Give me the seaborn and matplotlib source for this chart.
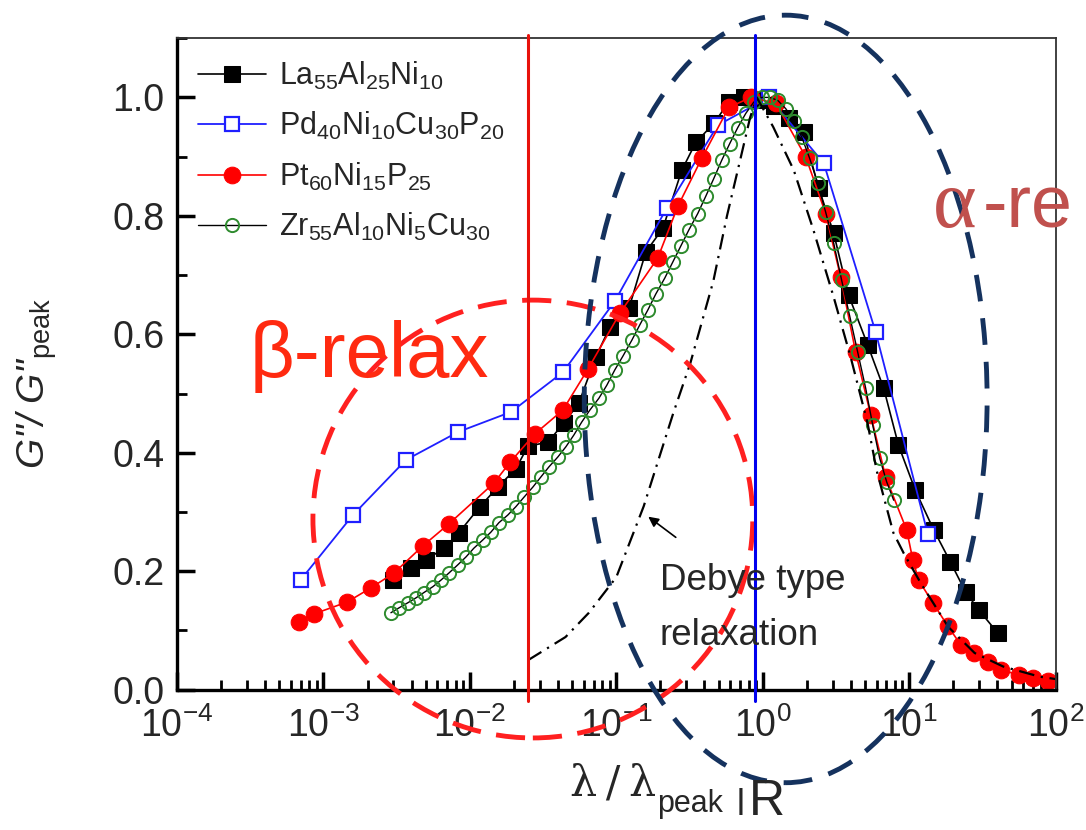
import numpy as np
import pandas as pd
import matplotlib
matplotlib.use("Agg")
import matplotlib.pyplot as plt
from matplotlib.patches import Ellipse
from matplotlib.ticker import MultipleLocator, FormatStrFormatter, FixedLocator, NullFormatter
import seaborn as sns

sns.set_style("ticks")
plt.rcParams["font.family"] = ["Liberation Sans", "DejaVu Sans"]
plt.rcParams["mathtext.fontset"] = "custom"
plt.rcParams["mathtext.rm"] = "Liberation Sans"
plt.rcParams["mathtext.it"] = "Liberation Sans:italic"
plt.rcParams["mathtext.bf"] = "Liberation Sans:bold"

# La55Al25Ni10
la_x = [0.00298, 0.00396, 0.00501, 0.00665, 0.00841, 0.0117, 0.0155, 0.0206, 0.0249, 0.0341,
        0.0438, 0.0555, 0.0725, 0.0903, 0.122, 0.159, 0.208, 0.280, 0.349, 0.463, 0.586, 0.742,
        0.939, 1.19, 1.50, 1.90, 2.41, 3.05, 3.86, 5.21, 6.70, 8.45, 11.0, 14.7, 19.1, 24.3, 29.8, 40.2]
la_y = [0.186, 0.206, 0.219, 0.239, 0.265, 0.309, 0.342, 0.373, 0.411, 0.418,
        0.450, 0.484, 0.562, 0.612, 0.644, 0.739, 0.779, 0.877, 0.924, 0.956, 0.992, 1.0,
        0.995, 0.985, 0.965, 0.941, 0.847, 0.771, 0.666, 0.582, 0.509, 0.413, 0.337, 0.270, 0.216, 0.165, 0.135, 0.096]

# Pd40Ni10Cu30P20
pd_x = [0.000702, 0.00159, 0.00366, 0.00828, 0.0191, 0.0432, 0.0977, 0.221, 0.493, 1.10, 2.61, 5.90, 13.4]
pd_y = [0.186, 0.295, 0.388, 0.435, 0.469, 0.536, 0.656, 0.813, 0.953, 1.0, 0.889, 0.604, 0.263]

# Pt60Ni15P25
pt_x = [0.000681, 0.000861, 0.00145, 0.00211, 0.00303, 0.00478, 0.00719, 0.0146, 0.0188, 0.0278,
        0.0431, 0.0639, 0.106, 0.192, 0.263, 0.383, 0.586, 0.828, 1.23, 1.97, 2.69, 3.41, 4.31,
        5.46, 6.91, 9.61, 10.6, 11.6, 14.5, 18.3, 22.5, 27.6, 34.4, 42.1, 55.9, 69.7, 88.2]
pt_y = [0.115, 0.128, 0.148, 0.172, 0.197, 0.243, 0.280, 0.349, 0.384, 0.432,
        0.472, 0.541, 0.636, 0.729, 0.816, 0.897, 0.983, 1.0, 0.990, 0.899, 0.804, 0.696, 0.570,
        0.464, 0.359, 0.270, 0.219, 0.185, 0.147, 0.108, 0.076, 0.062, 0.047, 0.034, 0.025, 0.020, 0.015]

# Zr55Al10Ni5Cu30
zr_x = [0.00289, 0.00327, 0.00378, 0.00428, 0.00485, 0.00559, 0.00634, 0.00719, 0.00828, 0.00939,
        0.01065, 0.01227, 0.01391, 0.01578, 0.01817, 0.0206, 0.0234, 0.0269, 0.0305, 0.0346,
        0.0399, 0.0452, 0.0513, 0.0581, 0.0659, 0.0760, 0.0861, 0.0977, 0.1108, 0.1276,
        0.1447, 0.1641, 0.1860, 0.2143, 0.2430, 0.2756, 0.3126, 0.360, 0.408, 0.463,
        0.525, 0.595, 0.675, 0.766, 0.868, 0.984, 1.116, 1.266, 1.436, 1.628,
        1.846, 2.093, 2.374, 2.692, 3.052, 3.461, 3.925, 4.451, 5.048, 5.635, 6.29, 7.02, 7.84]
zr_y = [0.130, 0.138, 0.147, 0.155, 0.164, 0.174, 0.185, 0.197, 0.211, 0.224,
        0.239, 0.253, 0.266, 0.282, 0.295, 0.309, 0.325, 0.342, 0.359, 0.376,
        0.393, 0.410, 0.430, 0.452, 0.472, 0.492, 0.514, 0.540, 0.563, 0.590,
        0.616, 0.641, 0.668, 0.695, 0.722, 0.749, 0.776, 0.804, 0.833, 0.863,
        0.894, 0.922, 0.949, 0.973, 0.992, 1.0, 1.0, 0.995, 0.981, 0.961,
        0.933, 0.897, 0.855, 0.806, 0.754, 0.691, 0.631, 0.570, 0.509, 0.447, 0.391, 0.351, 0.320]

# Debye type relaxation curve
deb_x = [0.025, 0.045, 0.065, 0.1, 0.154, 0.245, 0.32, 0.46, 0.57, 0.71, 0.82, 0.91, 1.18, 1.63,
         2.22, 3.05, 4.0, 5.2, 6.0, 7.8, 9.2, 12, 18.5, 28, 44, 78, 100]
deb_y = [0.05, 0.089, 0.13, 0.19, 0.31, 0.467, 0.551, 0.69, 0.80, 0.90, 0.966, 1.0, 0.95, 0.877,
         0.776, 0.663, 0.56, 0.45, 0.37, 0.265, 0.23, 0.18, 0.106, 0.062, 0.039, 0.022, 0.018]

# vertical marker lines (beta / peak position)
vline_x = [0.0249, 0.88]
vline_colors = ["#e8120c", "#0000ee"]

decades = [1e-4, 1e-3, 1e-2, 1e-1, 1e0, 1e1, 1e2]

fig = plt.figure(figsize=(10.86, 8.30), dpi=100)
ax = fig.add_axes([0.163, 0.169, 0.809, 0.785])

common = dict(estimator=None, sort=False, ax=ax)
sns.lineplot(x=la_x, y=la_y, color="black", lw=1.2, marker="s", markersize=11,
             markerfacecolor="black", markeredgecolor="black",
             label="La$_{55}$Al$_{25}$Ni$_{10}$", **common)
sns.lineplot(x=pd_x, y=pd_y, color="#1f1fff", lw=1.3, marker="s", markersize=9.5,
             markerfacecolor="white", markeredgecolor="#1f1fff", markeredgewidth=1.6,
             label="Pd$_{40}$Ni$_{10}$Cu$_{30}$P$_{20}$", **common)
sns.lineplot(x=pt_x, y=pt_y, color="#ff0000", lw=1.2, marker="o", markersize=12,
             markerfacecolor="#ff0000", markeredgecolor="#ff0000",
             label="Pt$_{60}$Ni$_{15}$P$_{25}$", **common)
sns.lineplot(x=zr_x, y=zr_y, color="black", lw=1.0, marker="o", markersize=9.5,
             markerfacecolor="none", markeredgecolor="#2e8b2e", markeredgewidth=1.4,
             label="Zr$_{55}$Al$_{10}$Ni$_{5}$Cu$_{30}$", **common)
sns.lineplot(x=deb_x, y=deb_y, color="black", lw=1.6, linestyle=(0, (7, 3, 1, 3)),
             **common)

ax.set_xscale("log")
ax.set_xlim(1e-4, 1e2)
ax.set_ylim(0, 1.1)
ax.set_xticks(decades)
minor_x = [m * d for d in decades[:-1] for m in range(2, 10)]
ax.xaxis.set_minor_locator(FixedLocator(minor_x))
ax.xaxis.set_minor_formatter(NullFormatter())
ax.yaxis.set_major_locator(MultipleLocator(0.2))
ax.yaxis.set_minor_locator(MultipleLocator(0.1))
ax.yaxis.set_major_formatter(FormatStrFormatter("%.1f"))
ax.tick_params(which="both", direction="in", top=False, right=False, labelsize=27,
               color="black")
ax.tick_params(which="major", length=13, width=2.5)
ax.tick_params(which="minor", length=7, width=2)
ax.tick_params(axis="y", pad=9)
ax.tick_params(axis="x", pad=13)
for side in ["left", "bottom"]:
    ax.spines[side].set_linewidth(2.4)
    ax.spines[side].set_color("black")
for side in ["top", "right"]:
    ax.spines[side].set_linewidth(1.3)
    ax.spines[side].set_color("#333333")

leg = ax.legend(loc="upper left", bbox_to_anchor=(0.0, 1.0), frameon=False, fontsize=22,
                handlelength=2.2, handletextpad=0.45, labelspacing=0.6, borderaxespad=0.3)

# overlays
for xv, c in zip(vline_x, vline_colors):
    ax.axvline(xv, ymin=-0.018, ymax=1.005, color=c, lw=2.2, clip_on=False, zorder=6)

ax.add_patch(Ellipse((0.405, 0.262), 0.5006, 0.672, transform=ax.transAxes, fill=False,
                     edgecolor="#ff2020", lw=3.5, linestyle=(0, (6, 3.2)), clip_on=False, zorder=5))
ax.add_patch(Ellipse((0.6928, 0.4463), 0.4585, 1.178, transform=ax.transAxes, fill=False,
                     edgecolor="#15325e", lw=3.5, linestyle=(0, (5.5, 3.5)), clip_on=False, zorder=5))

fig.text(250 / 1086, 1 - 377 / 830, "β-relax", color="#ff2a10", fontsize=56, va="baseline")
fig.text(933 / 1086, 1 - 227 / 830, "α", color="#c0504d", fontsize=60, va="baseline",
         family="Liberation Serif")
fig.text(983 / 1086, 1 - 227 / 830, "-re", color="#c0504d", fontsize=53, va="baseline")

fig.text(660 / 1086, 1 - 645 / 830, "Debye type\nrelaxation", fontsize=26.5, va="baseline",
         linespacing=1.75)
ax.annotate("", xy=(646 / 1086, 1 - 515 / 830), xytext=(678 / 1086, 1 - 539 / 830),
            xycoords="figure fraction", textcoords="figure fraction",
            arrowprops=dict(arrowstyle="-|>", color="black", lw=1.2, mutation_scale=15))

# axis labels
fig.text(570 / 1086, 1 - 795 / 830, "λ\u2009/\u2009λ", fontsize=31, va="baseline",
         family="DejaVu Serif")
fig.text(657 / 1086, 1 - 812 / 830, "peak", fontsize=22, va="baseline")
fig.text(737 / 1086, 1 - 815 / 830, "l", fontsize=26, va="baseline")
fig.text(749 / 1086, 1 - 815 / 830, "R", fontsize=36, va="baseline")
fig.text(37 / 1086, 1 - 383 / 830, 'G"/ G"$_{\\mathrm{peak}}$', fontsize=28, rotation=90,
         ha="center", va="center", style="italic")

fig.savefig("out.png", dpi=100)
